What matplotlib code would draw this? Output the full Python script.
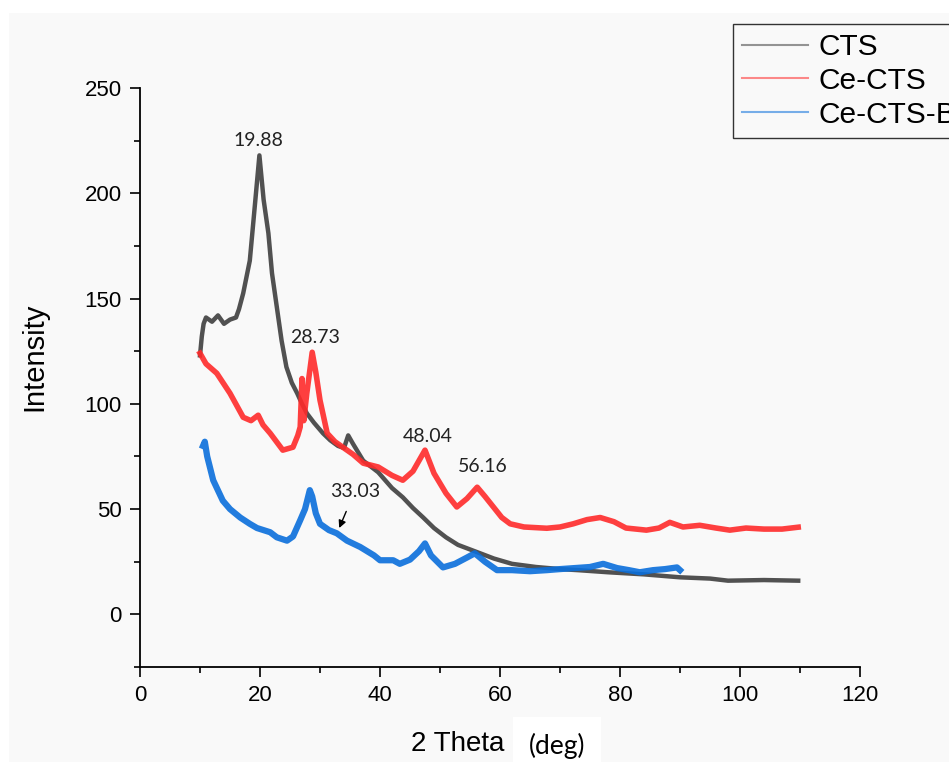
import matplotlib.pyplot as plt
from matplotlib.lines import Line2D
from matplotlib.patches import Rectangle

# XRD patterns (2 theta in deg, intensity)
cts_x = [10, 10.3, 10.6, 11, 12, 13, 14, 15, 16, 16.5, 17.2, 18.3, 19.2, 19.9, 20.6,
         21.4, 22, 22.8, 23.6, 24.4, 25.3, 26.2, 27, 27.8, 29, 30.5, 31.7, 33, 34,
         34.7, 35.5, 37.2, 39.7, 42, 43.8, 45.5, 47.2, 49, 51, 53, 56.7, 59, 62, 66,
         70, 73, 78, 84, 90, 95, 98, 104, 109.7]
cts_y = [123, 132, 138, 141, 139, 142, 138, 140, 141, 145, 152.5, 168, 196, 218, 197,
         181, 162, 146, 130, 117.5, 110, 105, 100, 95.5, 91, 86, 82.7, 80, 79,
         85, 81, 73, 67.5, 60, 55.6, 50.5, 46, 41, 36.6, 33, 29, 26.5, 24, 22.5,
         21.5, 21, 20, 19, 17.6, 17, 16, 16.3, 16]

ce_x = [10, 11, 12.8, 15, 17.2, 18.5, 19.7, 20.5, 21.7, 23.8, 25.5, 26.3, 26.7, 27,
        27.3, 27.8, 28.7, 29.3, 30, 31.2, 32.5, 33.8, 35.5, 37.2, 39.7, 42, 43.8,
        45.5, 47.5, 49, 51, 52.8, 54.5, 56.2, 57.5, 58.9, 60.3, 61.7, 64, 67.8, 70,
        72.2, 74.5, 76.7, 79, 81, 84.4, 86.5, 88.3, 90.5, 93.3, 96, 98.3, 101, 104,
        107, 109.7]
ce_y = [124, 119, 114.5, 105, 93.6, 92, 94.6, 90, 86, 78, 79.4, 85, 89, 112,
        92, 105, 124.5, 115, 101.7, 86, 82, 79.4, 76, 71.8, 70, 66, 63.7,
        68, 78, 67, 57.5, 51, 55, 60.4, 56, 51, 46, 43, 41.5, 40.9, 41.5,
        43, 45, 46, 44, 41, 40, 41, 43.7, 41.5, 42.3, 41, 40, 41, 40.5,
        40.5, 41.4]

ceb_x = [10.5, 10.8, 11.2, 12.2, 13.8, 15, 16.7, 18.3, 19.5, 21.7, 22.8, 24.5, 25.5,
         26.7, 27.5, 28.3, 28.7, 29.3, 30, 31.5, 32.8, 34.5, 36.7, 39, 40, 42.2,
         43.3, 45, 46.5, 47.5, 48.5, 50.5, 52.5, 54.5, 55.8, 57.5, 59.5, 62, 65,
         67.8, 70, 72.5, 75, 77.2, 79.5, 81.5, 83.3, 85.5, 87.5, 89.5, 90]
ceb_y = [80, 82, 75, 63.7, 54, 50, 46, 43, 41, 39, 36.6, 35, 37,
         44.7, 50, 59, 56, 48, 43, 40, 38.5, 35, 32, 28, 25.7, 25.7,
         24, 26, 30, 33.7, 28, 22.3, 24, 27, 29, 25, 21, 21, 20.5,
         21, 21.5, 22, 22.5, 24, 22, 21, 20, 21, 21.5, 22.3, 21]

labels = ["CTS", "Ce-CTS", "Ce-CTS-B"]
colors = ["#3f3f3f", "#ff2b2b", "#0a6fdb"]
widths = [3.2, 4.0, 4.5]

peak_labels = ["19.88", "28.73", "48.04", "56.16"]
peak_pos = [(19.7, 225), (29.2, 131.5), (48.0, 84.5), (57.2, 70.3)]

plt.rcParams['font.family'] = ['Liberation Sans', 'DejaVu Sans']
bg = "#f9f9f9"

fig = plt.figure(figsize=(9.49, 7.62), dpi=100, facecolor="white")
fig.patches.append(Rectangle((9 / 949, 0), 1, 1 - 13 / 762, transform=fig.transFigure,
                             facecolor=bg, edgecolor="none", zorder=-10))
ax = fig.add_axes([140 / 949, 1 - 667 / 762, 720 / 949, (667 - 88) / 762])
ax.set_facecolor("none")

for xs, ys, c, w in zip([cts_x, ce_x, ceb_x], [cts_y, ce_y, ceb_y], colors, widths):
    ax.plot(xs, ys, color=c, lw=w, alpha=0.9, solid_joinstyle="round")

ax.set_xlim(0, 120)
ax.set_ylim(-25, 250)
ax.set_xticks(range(0, 121, 20))
ax.set_xticks(range(10, 120, 20), minor=True)
ax.set_yticks(range(0, 251, 50))
ax.set_yticks(range(-25, 250, 50), minor=True)
ax.tick_params(which="major", direction="out", length=7, width=1.2, labelsize=16, pad=6)
ax.tick_params(which="minor", direction="out", length=4.5, width=1.2)
for s in ["top", "right"]:
    ax.spines[s].set_visible(False)
for s in ["left", "bottom"]:
    ax.spines[s].set_linewidth(1.3)

ax.set_ylabel("Intensity", fontsize=21)
ax.yaxis.set_label_coords((48 - 140) / 720, (667 - 357) / 579)
fig.text(458 / 949, 1 - 744 / 762, "2 Theta", fontsize=20, ha="center", va="center")
fig.text(557 / 949, 1 - 746 / 762, "(deg)", fontsize=19, ha="center", va="center",
         family=["Lato", "DejaVu Sans"],
         bbox=dict(boxstyle="square,pad=0.6", facecolor="white", edgecolor="none"))

for t, (px, py) in zip(peak_labels, peak_pos):
    ax.text(px, py, t, fontsize=14, ha="center", va="center", color="#222222",
            family=["Lato", "DejaVu Sans"])
ax.annotate("33.03", xy=(33.2, 41), xytext=(35.8, 58.5), fontsize=14, ha="center",
            va="center", color="#222222", family=["Lato", "DejaVu Sans"],
            arrowprops=dict(arrowstyle="-|>", color="black", lw=1.0,
                            shrinkA=7, shrinkB=0, mutation_scale=11))

handles = [Line2D([], [], color=c, lw=1.5, alpha=0.55) for c in colors]
leg = fig.legend(handles, labels, loc="upper left", bbox_to_anchor=(733 / 949, 1 - 24 / 762),
                 bbox_transform=fig.transFigure, borderaxespad=0, fontsize=21.5,
                 handlelength=2.2, handletextpad=0.35, labelspacing=0.2,
                 borderpad=0.3, fancybox=False, framealpha=1)
leg.get_frame().set_edgecolor("#333333")
leg.get_frame().set_facecolor(bg)
leg.get_frame().set_linewidth(1.0)

fig.savefig("out.png", dpi=100, facecolor=fig.get_facecolor())
